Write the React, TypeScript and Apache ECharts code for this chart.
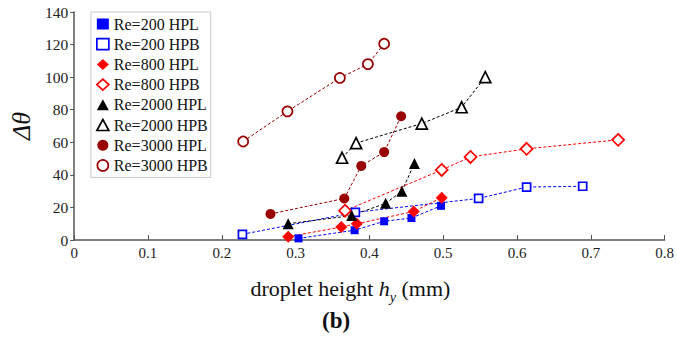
import React, { useEffect, useRef } from "react";
import * as echarts from "echarts";

const seriesNames = [
  "Re=200 HPL",
  "Re=200 HPB",
  "Re=800 HPL",
  "Re=800 HPB",
  "Re=2000 HPL",
  "Re=2000 HPB",
  "Re=3000 HPL",
  "Re=3000 HPB",
];

const re200HPL = [[0.304, 1], [0.38, 6], [0.42, 11.5], [0.457, 13.5], [0.497, 21]];
const re200HPB = [[0.228, 3.5], [0.381, 17], [0.548, 25.5], [0.613, 32.5], [0.689, 33]];
const re800HPL = [[0.29, 2], [0.362, 8], [0.383, 10], [0.46, 17.5], [0.498, 26]];
const re800HPB = [[0.367, 18], [0.498, 43], [0.537, 51], [0.613, 56], [0.737, 61.5]];
const re2000HPL = [[0.29, 10], [0.376, 15], [0.422, 22.5], [0.444, 30], [0.461, 47]];
const re2000HPB = [[0.363, 50.5], [0.382, 59.5], [0.471, 71.5], [0.525, 81.5], [0.557, 100]];
const re3000HPL = [[0.266, 16], [0.366, 25.5], [0.389, 45.5], [0.42, 54], [0.443, 76]];
const re3000HPB = [[0.229, 60.5], [0.289, 79], [0.36, 99.5], [0.398, 108], [0.42, 120.5]];

const allData = [re200HPL, re200HPB, re800HPL, re800HPB, re2000HPL, re2000HPB, re3000HPL, re3000HPB];
const colors = ["#0000ff", "#0000ff", "#ff0000", "#ff0000", "#000000", "#000000", "#990000", "#990000"];
const symbols = ["rect", "rect", "diamond", "diamond", "triangle", "triangle", "circle", "circle"];
const filled = [true, false, true, false, true, false, true, false];
const sizes = [8, 8, 12, 12, 11, 11, 10, 10];

const xTicks = [0, 0.1, 0.2, 0.3, 0.4, 0.5, 0.6, 0.7, 0.8];
const yTicks = [0, 20, 40, 60, 80, 100, 120, 140];

const serif = "'Liberation Serif', 'Times New Roman', serif";

export default function App() {
  const ref = useRef<HTMLDivElement>(null);
  useEffect(() => {
    if (!ref.current) return;
    const chart = echarts.init(ref.current, undefined, { renderer: "svg" });
    const itemStyleFor = (i: number) =>
      filled[i]
        ? { color: colors[i], borderColor: colors[i], borderWidth: 0 }
        : { color: "#ffffff", borderColor: colors[i], borderWidth: 1.7 };
    chart.setOption({
      animation: false,
      backgroundColor: "#ffffff",
      grid: { left: 74, right: 11, top: 12, bottom: 103, containLabel: false },
      legend: {
        orient: "vertical",
        left: 91,
        top: 12,
        padding: [4, 3, 4, 5],
        borderColor: "#c8c8c8",
        borderWidth: 1,
        backgroundColor: "#ffffff",
        itemWidth: 12,
        itemHeight: 11,
        itemGap: 4.2,
        textStyle: { fontFamily: serif, fontSize: 16, lineHeight: 14, color: "#111" },
        data: seriesNames.map((n, i) => ({
          name: n,
          icon: symbols[i],
          itemStyle: itemStyleFor(i),
        })),
      },
      xAxis: {
        type: "value",
        min: 0,
        max: 0.8,
        interval: 0.1,
        name: "droplet height {i|h}{s|y} (mm)",
        nameLocation: "middle",
        nameGap: 32,
        nameTextStyle: {
          fontFamily: serif,
          fontSize: 22,
          color: "#111",
          padding: [0, 38, 0, 0],
          rich: {
            i: { fontFamily: serif, fontSize: 22, fontStyle: "italic", color: "#111" },
            s: { fontFamily: serif, fontSize: 14, fontStyle: "italic", color: "#111", verticalAlign: "bottom", padding: [18, 0, 0, 0] },
          },
        },
        axisLine: { show: true, lineStyle: { color: "#555", width: 1.5 } },
        axisTick: { show: true, inside: true, length: 5, lineStyle: { color: "#555" } },
        axisLabel: {
          fontFamily: serif,
          fontSize: 15,
          color: "#222",
          margin: 5,
          hideOverlap: false,
          overflow: "none",
          formatter: (v: number) => {
            const t = xTicks.find((x) => Math.abs(x - v) < 1e-6);
            return t === undefined ? "" : String(Number(t.toFixed(1)));
          },
        },
        splitLine: { show: false },
      },
      yAxis: {
        type: "value",
        min: 0,
        max: 140,
        interval: 20,
        name: "Δθ",
        nameLocation: "middle",
        nameGap: 36,
        nameRotate: 90,
        nameTextStyle: { fontFamily: serif, fontSize: 26, fontStyle: "italic", color: "#111" },
        axisLine: { show: true, lineStyle: { color: "#555", width: 1.5 } },
        axisTick: { show: true, inside: false, length: 4, lineStyle: { color: "#555" } },
        axisLabel: {
          fontFamily: serif,
          fontSize: 15.5,
          color: "#222",
          margin: 6,
          formatter: (v: number) => (yTicks.includes(v) ? String(v) : ""),
        },
        splitLine: { show: false },
      },
      series: seriesNames.map((n, i) => ({
        name: n,
        type: "line",
        data: allData[i],
        symbol: symbols[i],
        symbolSize: sizes[i],
        showSymbol: true,
        itemStyle: itemStyleFor(i),
        lineStyle: { color: colors[i], width: 1, type: [3, 2] },
        emphasis: { disabled: true },
        z: 2,
      })),
      graphic: [
        {
          type: "text",
          left: 322,
          top: 309,
          style: { text: "(b)", fontFamily: serif, fontSize: 23, fontWeight: "bold", fill: "#111" },
        },
      ],
    });
    return () => chart.dispose();
  }, []);
  return (
    <div
      ref={ref}
      style={{ width: 677, height: 343, position: "absolute", left: 0, top: 0 }}
    />
  );
}
